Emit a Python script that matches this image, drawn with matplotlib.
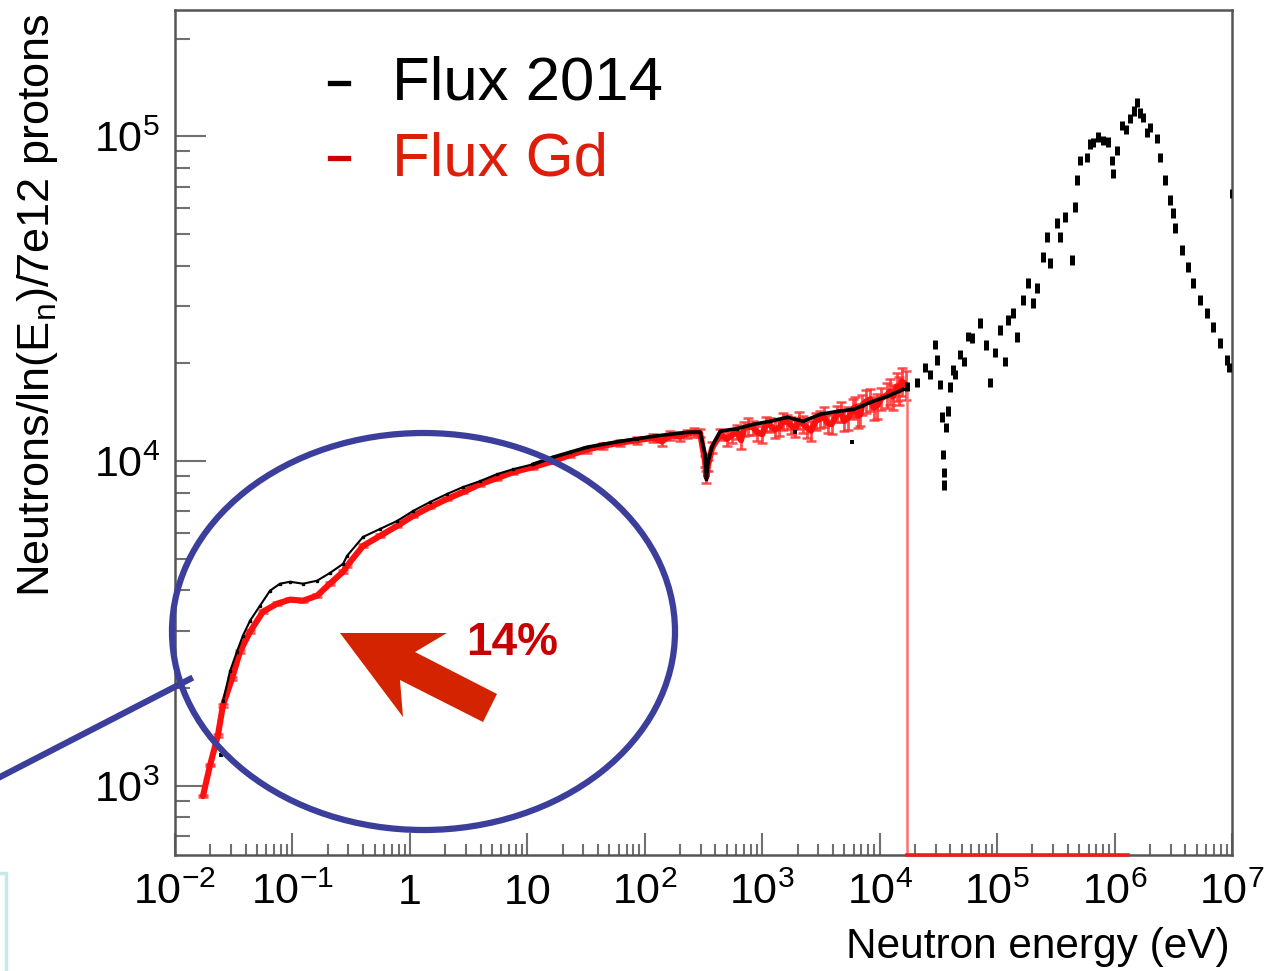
import numpy as np
import matplotlib
matplotlib.use("Agg")
import matplotlib.pyplot as plt
from matplotlib.patches import Ellipse, Polygon
from matplotlib.lines import Line2D
from matplotlib.ticker import LogLocator, FixedLocator, NullFormatter, FixedFormatter

plt.rcParams['font.family'] = ['Liberation Sans', 'DejaVu Sans']
plt.rcParams['mathtext.fontset'] = 'custom'
plt.rcParams['mathtext.rm'] = 'Liberation Sans'
plt.rcParams['mathtext.it'] = 'Liberation Sans:italic'
plt.rcParams['mathtext.bf'] = 'Liberation Sans:bold'

# ---------------- data ----------------
# Flux 2014, smooth low/mid energy part (eV, neutrons/ln(E)/7e12 p)
flux2014_E = [0.0256, 0.0294, 0.0337, 0.0379, 0.0436, 0.053, 0.0644, 0.0784, 0.0955,
              0.123, 0.162, 0.209, 0.27, 0.292, 0.399, 0.557, 0.778, 1.064, 1.486,
              2.07, 2.84, 3.96, 5.53, 7.57, 11.2, 16.6, 23.2, 32.3, 44.3, 61.7, 86.1,
              118, 164, 230, 296, 326, 335, 345, 375, 439, 612, 838, 1170, 1633,
              2233, 3119, 4355, 5957, 7110, 8318, 11610, 15880]
flux2014_V = [1822, 2253, 2594, 2905, 3230, 3592, 3993, 4195, 4254,
              4195, 4285, 4530, 4830, 5114, 5845, 6185, 6545, 7025, 7487,
              7925, 8325, 8684, 9124, 9448, 9787, 10290, 10660, 11040, 11280, 11510, 11720,
              11930, 12100, 12270, 12300, 10500, 8810, 9930, 11120, 12360, 12600, 12980, 13270, 13650,
              13270, 13940, 14230, 14440, 14800, 15170, 15830, 16630]
# Flux 2014, isolated points
flux2014_iso_E = [0.0247, 1910, 5810]
flux2014_iso_V = [1245, 12300, 11430]
# Flux 2014, high energy part (scattered points with error bars)
flux2014_hi_E = [17180, 20890, 24430, 27000, 29580, 30970, 32660, 34040, 34700, 35100, 35500,
                 36780, 38210, 39700, 42170, 44050, 48350, 52000, 56530, 61480, 71580, 80480,
                 87050, 96000, 105900, 116800, 125000, 137500, 148600, 167100, 184500, 203000,
                 219700, 247300, 268000, 283700, 326000, 345000, 381000, 437300, 463400, 482000,
                 511400, 586500, 622000, 659800, 728000, 803000, 885000, 957000, 977000,
                 1057000, 1165000, 1250000, 1362000, 1450000, 1563000, 1650000, 1758000,
                 1900000, 2018000, 2317000, 2455000, 2710000, 2990000, 3170000, 3300000,
                 3780000, 4260000, 4690000, 5380000, 6170000, 6940000, 7960000, 9140000,
                 9500000, 10000000]
flux2014_hi_V = [17000, 17470, 19420, 18490, 22900, 20540, 17220, 13700, 10500, 9230, 8440,
                 12700, 14260, 16900, 19100, 18490, 21300, 20270, 24200, 23990, 26700, 22800,
                 17500, 21600, 25400, 20300, 27280, 28640, 24180, 31410, 35400, 30740,
                 34190, 42540, 49000, 40750, 54080, 49000, 56440, 41690, 60560, 73300,
                 84400, 86250, 95000, 95900, 99500, 97200, 96000, 84400, 77000,
                 90600, 108100, 105000, 113600, 120000, 127100, 118000, 114400,
                 103000, 106600, 98600, 86250, 73300, 63660, 58020, 52200,
                 44670, 39650, 35400, 31410, 28640, 25950, 23170, 20540,
                 19420, 66830]

# Flux Gd
gd_E = [0.0173, 0.0199, 0.0232, 0.0256, 0.0306, 0.0358, 0.0436, 0.0562, 0.074, 0.0955,
        0.123, 0.162, 0.209, 0.27, 0.292, 0.399, 0.557, 0.778, 1.064, 1.486, 2.07, 2.84,
        3.96, 5.53, 7.57, 11.2, 16.6, 23.2, 32.3, 44.3, 61.7, 86.1,
        118, 140, 164, 200, 230, 260, 296, 326, 335, 345, 375, 439, 500, 550, 612, 660,
        700, 760, 838, 900, 1000, 1080, 1170, 1280, 1400, 1500, 1633, 1760, 1910, 2050,
        2233, 2400, 2600, 2850, 3119, 3350, 3600, 3900, 4355, 4650, 5000, 5400, 5957,
        6200, 6500, 6800, 7110, 7700, 8318, 8900, 9500, 10300, 11610, 12200, 13000,
        14000, 14700, 15500, 16600]
gd_V = [931, 1160, 1433, 1772, 2144, 2594, 2988, 3443, 3641, 3748,
        3720, 3853, 4200, 4567, 4764, 5486, 5888, 6319, 6783, 7224, 7648, 8035,
        8497, 8867, 9250, 9590, 10000, 10450, 10850, 11150, 11400, 11600,
        11800, 11500, 12000, 11900, 12150, 12250, 12200, 10000, 8950, 9700, 11000, 12100, 11700, 12000, 12300, 11600,
        12600, 12800, 12700, 12300, 12100, 13000, 12900, 12500, 12700, 13300, 13200, 12900, 12600, 13400,
        13000, 12700, 12400, 13300, 13500, 13700, 13100, 13000, 14000, 14200, 13300, 13600, 14500,
        14700, 13800, 13900, 14900, 15300, 15500, 14600, 14800, 15600, 16000, 16400, 15800,
        17000, 16500, 17600, 17200]
gd_relerr = [0.01, 0.01, 0.01, 0.01, 0.01, 0.01, 0.01, 0.01, 0.01, 0.01,
             0.01, 0.01, 0.01, 0.01, 0.01, 0.01, 0.01, 0.01, 0.01, 0.01, 0.01, 0.01,
             0.01, 0.01, 0.01, 0.01, 0.015, 0.015, 0.02, 0.02, 0.02, 0.025,
             0.03, 0.03, 0.03, 0.03, 0.03, 0.03, 0.03, 0.04, 0.04, 0.04, 0.04, 0.04, 0.05, 0.05, 0.05, 0.06,
             0.05, 0.06, 0.05, 0.06, 0.06, 0.05, 0.05, 0.06, 0.06, 0.06, 0.05, 0.06, 0.06, 0.06,
             0.06, 0.07, 0.07, 0.06, 0.06, 0.07, 0.07, 0.07, 0.06, 0.07, 0.07, 0.08, 0.07,
             0.07, 0.08, 0.08, 0.07, 0.08, 0.08, 0.08, 0.09, 0.08, 0.09, 0.09, 0.09,
             0.10, 0.10, 0.10, 0.10]
gd_zero_start = 17200      # empty Gd bins start (histogram drops to zero)
gd_zero_end = 1.3e6        # empty Gd bins end

x_ticks = [1e-2, 1e-1, 1, 10, 1e2, 1e3, 1e4, 1e5, 1e6, 1e7]
x_ticklabels = ['10$^{-2}$', '10$^{-1}$', '1', '10', '10$^{2}$', '10$^{3}$',
                '10$^{4}$', '10$^{5}$', '10$^{6}$', '10$^{7}$']
y_ticks = [1e3, 1e4, 1e5]
y_ticklabels = ['10$^{3}$', '10$^{4}$', '10$^{5}$']
x_range = (1e-2, 1e7)
y_range = (613, 2.45e5)

series_labels = ['Flux 2014', 'Flux Gd']
note_text = '14%'

# ---------------- figure ----------------
W, H = 1270, 971
fig = plt.figure(figsize=(W / 100, H / 100), dpi=100)
ax = fig.add_axes([175 / W, 1 - 855 / H, (1232 - 175) / W, (855 - 10) / H])


def fx(px):
    return px / W


def fy(py):
    return 1 - py / H


ax.set_xscale('log')
ax.set_yscale('log')
ax.set_xlim(*x_range)
ax.set_ylim(*y_range)

red = '#ff1010'
# Gd flux
gE = np.array(gd_E)
gV = np.array(gd_V)
gErr = gV * np.array(gd_relerr)
ax.errorbar(gE, gV, yerr=gErr, fmt='none', ecolor='#ff3030', elinewidth=2.0,
            capsize=3.5, capthick=1.8, alpha=0.85, zorder=2)
ax.plot(gE, gV, color=red, lw=4.4, zorder=3, solid_capstyle='round')
# drop to zero and empty bins
ax.plot([gd_zero_start, gd_zero_start], [gV[-1], y_range[0]], color='#ff7070',
        lw=1.8, zorder=2)
ax.plot([gd_zero_start, gd_zero_end], [y_range[0], y_range[0]], color='#ee1c1c',
        lw=2.6, zorder=6, clip_on=False)

# Flux 2014
bE = np.array(flux2014_E)
bV = np.array(flux2014_V)
low = bE <= 12
ax.plot(bE[low], bV[low], color='black', lw=1.5, zorder=4)
ax.plot(bE[~low | (bE == bE[low][-1])], bV[~low | (bE == bE[low][-1])],
        color='black', lw=2.6, zorder=4)
ax.plot(bE, bV, 's', color='black', ms=2.0, zorder=4)
ax.errorbar(flux2014_iso_E, flux2014_iso_V,
            yerr=np.array(flux2014_iso_V) * 0.015, fmt='none', ecolor='black',
            elinewidth=2.8, zorder=4)
hiV = np.array(flux2014_hi_V)
ax.errorbar(flux2014_hi_E, hiV, yerr=hiV * 0.034, fmt='none', ecolor='black',
            elinewidth=3.6, zorder=4)

# axes styling
for s in ax.spines.values():
    s.set_color('#555555')
    s.set_linewidth(1.8)
ax.xaxis.set_major_locator(FixedLocator(x_ticks))
ax.xaxis.set_major_formatter(FixedFormatter(x_ticklabels))
ax.yaxis.set_major_locator(FixedLocator(y_ticks))
ax.yaxis.set_major_formatter(FixedFormatter(y_ticklabels))
ax.xaxis.set_minor_locator(LogLocator(base=10, subs=np.arange(2, 10), numticks=100))
ax.yaxis.set_minor_locator(LogLocator(base=10, subs=np.arange(2, 10), numticks=100))
ax.xaxis.set_minor_formatter(NullFormatter())
ax.yaxis.set_minor_formatter(NullFormatter())
ax.tick_params(axis='both', which='both', direction='in', top=False, right=False,
               color='#707070', width=1.5, labelsize=31, labelcolor='black')
ax.tick_params(axis='y', which='major', length=22, pad=11)
ax.tick_params(axis='y', which='minor', length=11)
ax.tick_params(axis='x', which='major', length=16, pad=13)
ax.tick_params(axis='x', which='minor', length=8)

# axis titles
fig.text(fx(1230), fy(958), 'Neutron energy (eV)', ha='right', va='baseline',
         fontsize=30.5)
fig.text(fx(38), fy(305), 'Neutrons/ln(E$_\\mathrm{n}$)/7e12 protons', rotation=90,
         ha='center', va='center', fontsize=32.5)

# legend
fig.add_artist(Line2D([fx(330), fx(348)], [fy(83), fy(83)], color='black', lw=3.8))
fig.add_artist(Line2D([fx(330), fx(348)], [fy(158), fy(158)], color='#d00000', lw=3.8))
fig.text(fx(392), fy(100), series_labels[0], color='black', fontsize=44.5, va='baseline')
fig.text(fx(392), fy(175), series_labels[1], color='#dc1e0a', fontsize=44.5, va='baseline')

# annotations
blue = '#3b3f9b'
fig.add_artist(Ellipse((fx(423.5), fy(631.5)), 503 / W, 397 / H, fill=False,
                       edgecolor=blue, lw=4.5, transform=fig.transFigure))
fig.add_artist(Line2D([fx(190), fx(0)], [fy(679), fy(777)], color=blue, lw=4.5))
arrow_px = [(340, 633), (447, 633), (415, 652), (497, 694), (483, 722), (400, 680),
            (403, 717)]
fig.add_artist(Polygon([(fx(a), fy(b)) for a, b in arrow_px], closed=True,
                       facecolor='#d42300', edgecolor='none', transform=fig.transFigure))
fig.text(fx(512), fy(643), note_text, color='#c80000', fontsize=33, fontweight='bold',
         ha='center', va='center')

# light cyan bracket at lower-left
fig.add_artist(Line2D([fx(0), fx(6), fx(6)], [fy(873), fy(873), fy(971)],
                      color='#c4e8ec', lw=2.5))

fig.savefig('out.png', dpi=100)
